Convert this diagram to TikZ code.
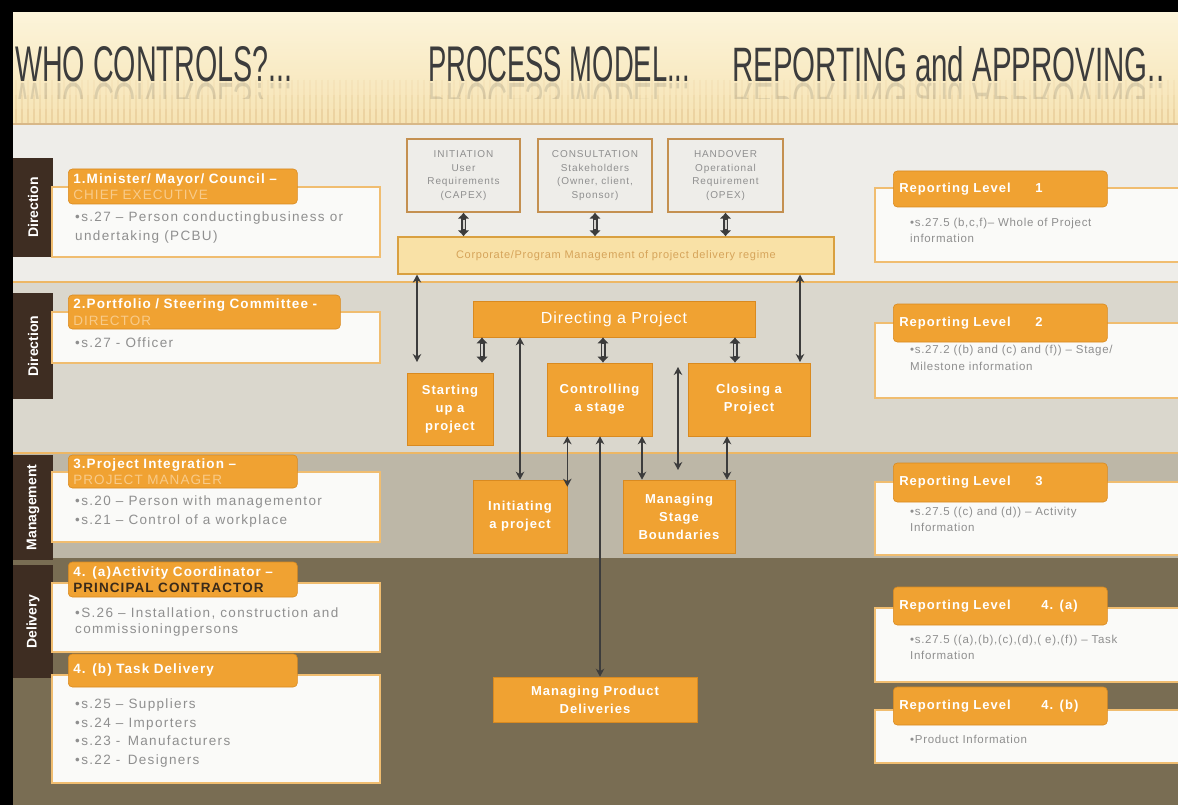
\documentclass[tikz,border=0pt]{standalone}
\usepackage{fontspec}
\usepackage{graphicx}
\setmainfont{Liberation Sans}
\newfontfamily\ttlfont{Liberation Sans}
\newfontfamily\bodyfont[LetterSpace=10]{Liberation Sans}
\newfontfamily\rbodyfont[LetterSpace=6]{Liberation Sans}
\newfontfamily\hdfont[LetterSpace=8]{Liberation Sans}
\newfontfamily\srcfont[LetterSpace=9]{Liberation Sans}
\usetikzlibrary{arrows.meta,calc}

\definecolor{cream}{HTML}{FCF4DA}
\definecolor{creamlow}{HTML}{F6E3B3}
\definecolor{stripe}{HTML}{E4C690}
\definecolor{headline}{HTML}{D8B888}
\definecolor{bandA}{HTML}{EEEDE9}
\definecolor{bandB}{HTML}{DAD7CD}
\definecolor{bandC}{HTML}{BDB7A7}
\definecolor{bandD}{HTML}{796D53}
\definecolor{tabbrown}{HTML}{3E2D22}
\definecolor{orng}{HTML}{F0A232}
\definecolor{orngdark}{HTML}{D98A20}
\definecolor{orngline}{HTML}{EDB765}
\definecolor{bodyfill}{HTML}{FAFAF8}
\definecolor{bodyedge}{HTML}{F0BD70}
\definecolor{txtgray}{HTML}{8F8F8F}
\definecolor{pale}{HTML}{F8CB8A}
\definecolor{darkhd}{HTML}{3A2A1A}
\definecolor{arrowc}{HTML}{3C3C3C}
\definecolor{arrowin}{HTML}{D5D3CE}
\definecolor{barfill}{HTML}{F9E1A6}
\definecolor{baredge}{HTML}{D9A040}
\definecolor{bartext}{HTML}{D6A45A}
\definecolor{srcfill}{HTML}{EEEDE9}
\definecolor{srcedge}{HTML}{C49050}
\definecolor{titlec}{HTML}{3C3C3C}

\begin{document}
\begin{tikzpicture}[x=1pt,y=-1pt,
  tabbox/.style={fill=tabbrown, draw=none, rotate=90, inner sep=0pt,
    minimum height=40pt, text=white, font=\fontsize{14}{14}\selectfont\bfseries},
  bodybox/.style={fill=bodyfill, draw=bodyedge, line width=1.5pt, inner sep=0pt},
  hdr/.style={fill=orng, draw=orngdark, line width=0.6pt, rounded corners=4pt,
    text=white, font=\hdfont\bfseries\fontsize{13.5}{16.5}\selectfont,
    align=left, inner xsep=5pt, inner ysep=0pt, anchor=west},
  rhdr/.style={hdr, inner xsep=6pt, font=\hdfont\bfseries\fontsize{13}{16}\selectfont},
  bodytext/.style={text=txtgray, font=\bodyfont\fontsize{13.5}{18.5}\selectfont,
    align=left, anchor=north west, inner sep=0pt},
  rtext/.style={bodytext, font=\rbodyfont\fontsize{11.5}{15.5}\selectfont},
  srcbox/.style={fill=srcfill, draw=srcedge, line width=1.2pt, text=txtgray,
    font=\srcfont\fontsize{10}{13.5}\selectfont, align=center, inner sep=0pt},
  barbox/.style={fill=barfill, draw=baredge, line width=1.2pt, text=bartext,
    font=\rbodyfont\fontsize{11}{12}\selectfont, inner sep=0pt},
  procbox/.style={fill=orng, draw=orngdark, line width=0.6pt, text=white,
    font=\hdfont\bfseries\fontsize{13}{18}\selectfont, align=center, inner sep=0pt},
  fatout/.style={draw=arrowc, line width=5pt,
    {Latex[length=6pt,width=12pt]}-{Latex[length=6pt,width=12pt]}},
  fatin/.style={draw=arrowin, line width=2pt},
  thinarrow/.style={draw=arrowc, line width=1.3pt,
    {Stealth[length=8pt,width=8.5pt,inset=2.5pt]}-{Stealth[length=8pt,width=8.5pt,inset=2.5pt]}},
  ttl/.style={anchor=base west, inner sep=0pt, text=titlec},
  ttlmirror/.style={anchor=north west, inner sep=0pt, text=titlec, opacity=0.15}
]
\useasboundingbox (0,0) rectangle (1178,805);
\fill[black] (0,0) rectangle (1178,805);

% ---------- title strip ----------
\shade[top color=cream, bottom color=creamlow] (13,13) rectangle (1178,124);
\foreach \x in {16,22,...,1176} {
  \draw[stripe, line width=2pt, opacity=0.15] (\x,80) -- (\x,95);
  \draw[stripe, line width=2pt, opacity=0.32] (\x,95) -- (\x,109);
  \draw[stripe, line width=2pt, opacity=0.55] (\x,109) -- (\x,123);
}
\node[ttl] (t1) at (15,82) {\resizebox{277pt}{35pt}{\ttlfont WHO CONTROLS?...}};
\node[ttl] (t2) at (428,82) {\resizebox{262pt}{35pt}{\ttlfont PROCESS MODEL...}};
\node[ttl] (t3) at (732,82) {\resizebox{432pt}{35pt}{\ttlfont REPORTING and APPROVING..}};
\begin{scope}
  \clip (13,83) rectangle (1178,99);
  \node[ttlmirror] (m1) at (15,83) {\scalebox{1}[-1]{\resizebox{277pt}{35pt}{\ttlfont WHO CONTROLS?...}}};
  \node[ttlmirror] (m2) at (428,83) {\scalebox{1}[-1]{\resizebox{262pt}{35pt}{\ttlfont PROCESS MODEL...}}};
  \node[ttlmirror] (m3) at (732,83) {\scalebox{1}[-1]{\resizebox{432pt}{35pt}{\ttlfont REPORTING and APPROVING..}}};
\end{scope}

% ---------- horizontal bands ----------
\fill[bandA] (13,124) rectangle (1178,282);
\fill[bandB] (13,282) rectangle (1178,453);
\fill[bandC] (13,453) rectangle (1178,558);
\fill[bandD] (13,558) rectangle (1178,805);
\draw[headline, line width=1.5pt] (13,124) -- (1178,124);
\draw[orngline, line width=2pt] (13,282) -- (1178,282);
\draw[orngline, line width=2pt] (13,453) -- (1178,453);

% ---------- side tabs ----------
\node[tabbox, minimum width=99pt]  (tab1) at (33,207.5) {Direction};
\node[tabbox, minimum width=106pt] (tab2) at (33,346)   {Direction};
\node[tabbox, minimum width=105pt] (tab3) at (33,507.5) {Management};
\node[tabbox, minimum width=113pt] (tab4) at (33,621.5) {Delivery};

% ---------- who controls ----------
\node[bodybox, minimum width=328pt, minimum height=70pt] (b1) at (216,222) {};
\node[hdr, text width=219pt, minimum height=35pt] (h1) at (68,186.5)
  {1.Minister/ Mayor/ Council –\\{\color{pale}\mdseries CHIEF EXECUTIVE}};
\node[bodytext] (b1t) at (75,212) {•s.27 – Person conductingbusiness or\\undertaking (PCBU)};

\node[bodybox, minimum width=328pt, minimum height=51pt] (b2) at (216,337.5) {};
\node[hdr, text width=262pt, minimum height=34pt] (h2) at (68,312)
  {2.Portfolio / Steering Committee -\\{\color{pale}\mdseries DIRECTOR}};
\node[bodytext] (b2t) at (75,338) {•s.27 - Officer};

\node[bodybox, minimum width=328pt, minimum height=70pt] (b3) at (216,507) {};
\node[hdr, text width=219pt, minimum height=33pt] (h3) at (68,471.5)
  {3.Project Integration –\\{\color{pale}\mdseries PROJECT MANAGER}};
\node[bodytext] (b3t) at (75,496) {•s.20 – Person with managementor\\•s.21 – Control of a workplace};

\node[bodybox, minimum width=328pt, minimum height=69pt] (b4) at (216,617.5) {};
\node[hdr, text width=219pt, minimum height=35pt] (h4) at (68,579.5)
  {4. (a)Activity Coordinator –\\{\color{darkhd}PRINCIPAL CONTRACTOR}};
\node[bodytext, font=\bodyfont\fontsize{13.5}{16}\selectfont] (b4t) at (75,608)
  {•S.26 – Installation, construction and\\commissioningpersons};

\node[bodybox, minimum width=328pt, minimum height=108pt] (b5) at (216,729) {};
\node[hdr, text width=219pt, minimum height=33pt] (h5) at (68,670.5) {4. (b) Task Delivery};
\node[bodytext] (b5t) at (75,699)
  {•s.25 – Suppliers\\•s.24 – Importers\\•s.23 - \,Manufacturers\\•s.22 - \,Designers};

% ---------- reporting levels ----------
\node[bodybox, minimum width=315pt, minimum height=74pt] (r1) at (1032.5,225) {};
\node[rhdr, text width=202pt, minimum height=36pt] (rh1) at (893,189)
  {\makebox[136pt][l]{Reporting Level}1};
\node[rtext] (r1t) at (910,218) {•s.27.5 (b,c,f)– Whole of Project\\information};

\node[bodybox, minimum width=315pt, minimum height=75pt] (r2) at (1032.5,360.5) {};
\node[rhdr, text width=202pt, minimum height=38pt] (rh2) at (893,323)
  {\makebox[136pt][l]{Reporting Level}2};
\node[rtext, font=\rbodyfont\fontsize{11.5}{17}\selectfont] (r2t) at (910,345)
  {•s.27.2 ((b) and (c) and (f)) – Stage/\\Milestone information};

\node[bodybox, minimum width=315pt, minimum height=73pt] (r3) at (1032.5,518.5) {};
\node[rhdr, text width=202pt, minimum height=39pt] (rh3) at (893,482.5)
  {\makebox[136pt][l]{Reporting Level}3};
\node[rtext] (r3t) at (910,507) {•s.27.5 ((c) and (d)) – Activity\\Information};

\node[bodybox, minimum width=315pt, minimum height=74pt] (r4) at (1032.5,645) {};
\node[rhdr, text width=202pt, minimum height=38pt] (rh4) at (893,606)
  {\makebox[142pt][l]{Reporting Level}4. (a)};
\node[rtext] (r4t) at (910,635) {•s.27.5 ((a),(b),(c),(d),( e),(f)) – Task\\Information};

\node[bodybox, minimum width=315pt, minimum height=53pt] (r5) at (1032.5,736.5) {};
\node[rhdr, text width=202pt, minimum height=38pt] (rh5) at (893,706)
  {\makebox[142pt][l]{Reporting Level}4. (b)};
\node[rtext] (r5t) at (910,735) {•Product Information};

% ---------- process model ----------
\node[srcbox, minimum width=113pt, minimum height=73pt] (ini) at (463.5,175.5)
  {INITIATION\\User\\Requirements\\(CAPEX)};
\node[srcbox, minimum width=114pt, minimum height=73pt] (con) at (595,175.5)
  {CONSULTATION\\Stakeholders\\(Owner, client,\\Sponsor)};
\node[srcbox, minimum width=115pt, minimum height=73pt] (hand) at (725.5,175.5)
  {HANDOVER\\Operational\\Requirement\\(OPEX)};
\node[barbox, minimum width=436pt, minimum height=37pt] (bar) at (616,255.5)
  {Corporate/Program Management of project delivery regime};

\node[procbox, minimum width=282pt, minimum height=36pt,
  font=\rbodyfont\fontsize{16}{18}\selectfont] (dir) at (614,319) {Directing a Project};
\node[procbox, minimum width=86pt, minimum height=72pt] (start) at (450,409) {Starting\\up a\\project};
\node[procbox, minimum width=105pt, minimum height=73pt] (ctrl) at (599.5,399.5) {Controlling\\a stage};
\node[procbox, minimum width=122pt, minimum height=73pt] (close) at (749,399.5) {Closing a\\Project};
\node[procbox, minimum width=94pt, minimum height=73pt] (init) at (520,516.5) {Initiating\\a project};
\node[procbox, minimum width=112pt, minimum height=73pt] (msb) at (679,516.5) {Managing\\Stage\\Boundaries};
\node[procbox, minimum width=204pt, minimum height=45pt] (mpd) at (595,699.5) {Managing Product\\Deliveries};

% reference positions for the connectors
\coordinate (lfree) at (417,362);
\coordinate (rfree) at (800,362);
\coordinate (mtop) at (678,367);
\coordinate (mbot) at (678,470);
\coordinate (xs) at (482,0);
\coordinate (xc) at (603,0);
\coordinate (xcl) at (735,0);
\coordinate (xi) at (520,0);
\coordinate (xcm) at (642,0);
\coordinate (xclm) at (727,0);
\coordinate (xp) at (600,0);

% fat two-way arrows
\draw[fatout] (ini.south) -- (ini.south |- bar.north);
\draw[fatin, shorten <=7pt, shorten >=7pt] (ini.south) -- (ini.south |- bar.north);
\draw[fatout] (con.south) -- (con.south |- bar.north);
\draw[fatin, shorten <=7pt, shorten >=7pt] (con.south) -- (con.south |- bar.north);
\draw[fatout] (hand.south) -- (hand.south |- bar.north);
\draw[fatin, shorten <=7pt, shorten >=7pt] (hand.south) -- (hand.south |- bar.north);
\draw[fatout, shorten >=10pt] (dir.south -| xs) -- (start.north -| xs);
\draw[fatin, shorten <=7pt, shorten >=17pt] (dir.south -| xs) -- (start.north -| xs);
\draw[fatout] (dir.south -| xc) -- (ctrl.north -| xc);
\draw[fatin, shorten <=7pt, shorten >=7pt] (dir.south -| xc) -- (ctrl.north -| xc);
\draw[fatout] (dir.south -| xcl) -- (close.north -| xcl);
\draw[fatin, shorten <=7pt, shorten >=7pt] (dir.south -| xcl) -- (close.north -| xcl);

% thin two-way arrows
\draw[thinarrow] (bar.south -| lfree) -- (lfree);
\draw[thinarrow] (bar.south -| rfree) -- (rfree);
\draw[thinarrow] (dir.south -| xi) -- (init.north -| xi);
\draw[thinarrow] (ctrl.south -| init.north east) -- ($(init.north east)+(0,7)$);
\draw[thinarrow] (ctrl.south -| xcm) -- (msb.north -| xcm);
\draw[thinarrow] (close.south -| xclm) -- (msb.north -| xclm);
\draw[thinarrow] (ctrl.south -| xp) -- (mpd.north -| xp);
\draw[thinarrow] (mtop) -- (mbot);
\end{tikzpicture}
\end{document}
